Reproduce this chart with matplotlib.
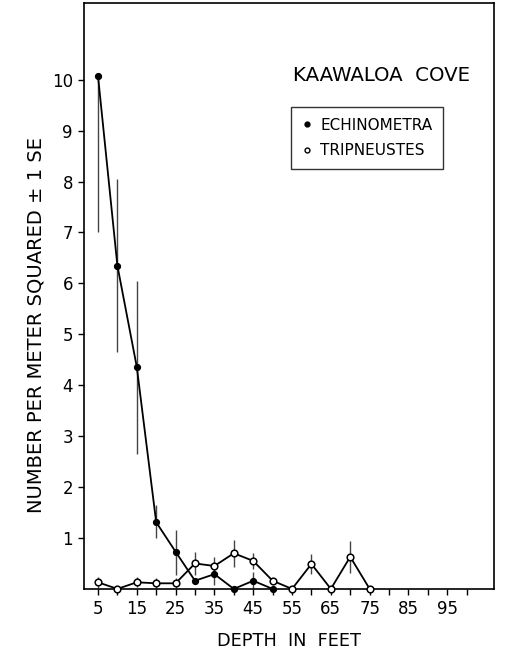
import matplotlib
matplotlib.use("Agg")
import matplotlib.pyplot as plt
from matplotlib.ticker import FixedLocator

plt.rcParams['font.family'] = ['DejaVu Sans']

# Echinometra (filled)
echi_depth = [5, 10, 15, 20, 25, 30, 35, 40, 45, 50]
echi_mean = [10.08, 6.35, 4.36, 1.31, 0.73, 0.16, 0.29, 0.0, 0.16, 0.0]
echi_se_low = [3.08, 1.70, 1.72, 0.32, 0.45, 0.0, 0.21, 0.0, 0.16, 0.0]
echi_se_high = [0.0, 1.70, 1.68, 0.34, 0.43, 0.0, 0.21, 0.0, 0.17, 0.0]

# Tripneustes (open)
trip_depth = [5, 10, 15, 20, 25, 30, 35, 40, 45, 50, 55, 60, 65, 70, 75]
trip_mean = [0.13, 0.0, 0.13, 0.11, 0.11, 0.50, 0.45, 0.70, 0.55, 0.16, 0.0, 0.49, 0.0, 0.63, 0.0]
trip_se = [0.11, 0.0, 0.10, 0.10, 0.10, 0.22, 0.18, 0.26, 0.15, 0.0, 0.0, 0.19, 0.0, 0.31, 0.0]

xtick_major = [5, 15, 25, 35, 45, 55, 65, 75, 85, 95]
xtick_minor = [10, 20, 30, 40, 50, 60, 70, 80, 90, 100]
yticks = [1, 2, 3, 4, 5, 6, 7, 8, 9, 10]

fig = plt.figure(figsize=(5.06, 6.58), dpi=100)
ax = fig.add_axes([0.166, 0.105, 0.810, 0.890])

ax.errorbar(echi_depth, echi_mean, yerr=[echi_se_low, echi_se_high], fmt='none',
            ecolor='#444444', elinewidth=1.0, capsize=0, zorder=2)
ax.errorbar(trip_depth, trip_mean, yerr=trip_se, fmt='none',
            ecolor='#444444', elinewidth=1.0, capsize=0, zorder=2)

ax.plot(echi_depth, echi_mean, '-', color='black', lw=1.3, marker='o', ms=4.2,
        mfc='black', mec='black', zorder=4, clip_on=False)
ax.plot(trip_depth, trip_mean, '-', color='black', lw=1.3, marker='o', ms=4.8,
        mfc='white', mec='black', mew=1.1, zorder=3, clip_on=False)

ax.set_xlim(1.4, 107)
ax.set_ylim(0, 11.5)

ax.xaxis.set_major_locator(FixedLocator(xtick_major))
ax.xaxis.set_minor_locator(FixedLocator(xtick_minor))
ax.set_yticks(yticks)
ax.set_yticklabels([str(v) for v in yticks])
ax.tick_params(axis='both', which='both', direction='out', width=1.0, colors='black')
ax.tick_params(axis='x', which='major', length=4, labelsize=12, pad=4)
ax.tick_params(axis='x', which='minor', length=4)
ax.tick_params(axis='y', which='major', length=4, labelsize=12, pad=4)

for s in ax.spines.values():
    s.set_linewidth(1.2)

ax.set_xlabel('DEPTH  IN  FEET', fontsize=12.8, labelpad=10)
ax.set_ylabel('NUMBER PER METER SQUARED \u00b1 1 SE', fontsize=14)
ax.yaxis.set_label_coords(-0.093, 0.45)

ax.text(0.725, 0.877, 'KAAWALOA  COVE', transform=ax.transAxes, ha='center', va='center',
        fontsize=14.2)

# legend box
leg = ax.legend(
    [plt.Line2D([], [], ls='none', marker='o', ms=3.5, mfc='black', mec='black'),
     plt.Line2D([], [], ls='none', marker='o', ms=3.5, mfc='white', mec='black')],
    ['ECHINOMETRA', 'TRIPNEUSTES'],
    loc='upper left', bbox_to_anchor=(0.506, 0.823), frameon=True, fancybox=False,
    edgecolor='black', fontsize=11.0, handlelength=0.6, handletextpad=0.6,
    borderpad=0.7, labelspacing=0.7, borderaxespad=0)
leg.get_frame().set_linewidth(1.0)

fig.savefig('out.png', dpi=100)
